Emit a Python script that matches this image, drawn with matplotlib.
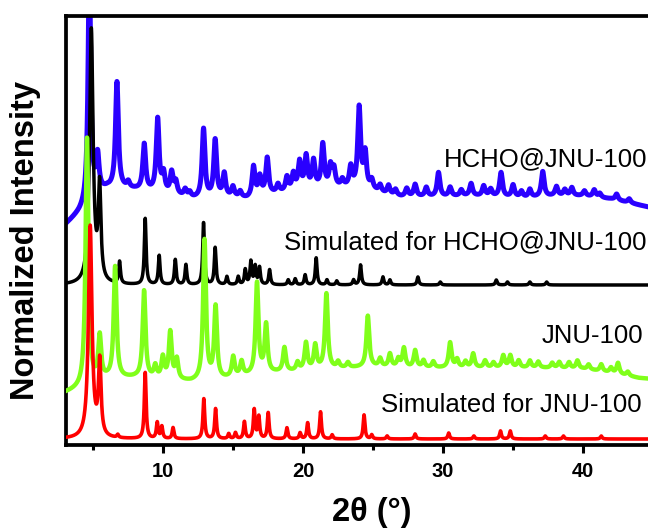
import numpy as np
import matplotlib
matplotlib.use("Agg")
import matplotlib.pyplot as plt
from matplotlib.ticker import MultipleLocator

plt.rcParams['font.family'] = ['Liberation Sans', 'DejaVu Sans']

# peak tables (2theta in degrees, height above background)
red_pos = [4.78, 5.46, 6.75, 8.71, 9.57, 9.9, 10.7, 12.9, 13.74, 14.68, 15.16, 15.8, 16.5, 16.83,
           17.5, 18.84, 19.78, 20.32, 21.24, 22.07, 24.35, 24.9, 26.0, 28.0, 30.4, 32.2, 34.1,
           34.8, 37.3, 38.6, 41.3]
red_hgt = [212, 74, 3, 66, 16, 12, 11, 40, 30, 5, 6, 17, 29, 22,
           26, 11, 6, 16, 27, 4, 24, 4, 3, 5, 6, 3, 8,
           8, 3, 3, 3]
red_bg_x = [3, 45]
red_bg_y = [6, 6]

green_pos = [4.55, 5.46, 6.56, 8.63, 9.43, 9.97, 10.5, 10.97, 12.95, 13.74, 15.0, 15.6, 16.7,
             17.35, 18.66, 19.6, 20.2, 20.86, 21.66, 22.5, 23.2, 24.62, 25.5, 26.2, 26.8, 27.2,
             28.0, 28.6, 29.3, 30.5, 31.0, 31.6, 32.15, 33.0, 33.6, 34.3, 34.8, 35.4, 36.2,
             36.8, 37.8, 38.3, 39.0, 39.6, 40.4, 41.3, 42.0, 42.5, 43.2]
green_hgt = [247, 43, 111, 87, 12, 21, 47, 20, 140, 72, 20, 14, 91,
             48, 24, 8, 27, 24, 75, 6, 5, 51, 8, 13, 8, 19,
             17, 7, 6, 25, 8, 6, 14, 7, 5, 12, 12, 7, 7,
             6, 5, 6, 6, 8, 5, 7, 5, 11, 4]
green_bg_x = [3, 4, 5, 6, 8, 10, 12, 14, 16, 18, 20, 22, 25, 28, 31, 34, 37, 40, 42, 44, 45]
green_bg_y = [52, 56, 62, 66, 67, 65, 63, 65, 69, 72, 74, 76, 78, 77, 77, 77, 77, 76, 72, 67, 66]

black_pos = [4.86, 5.45, 6.88, 8.71, 9.71, 10.86, 11.62, 12.88, 13.71, 14.55, 15.36, 15.86, 16.26,
             16.57, 16.88, 17.6, 18.93, 19.43, 20.14, 20.93, 21.7, 22.4, 23.6, 24.1, 25.7, 26.2,
             28.2, 29.8, 33.8, 34.6, 36.2, 37.4]
black_hgt = [254, 93, 22, 66, 29, 25, 20, 62, 37, 8, 8, 15, 23,
             18, 17, 15, 5, 6, 10, 27, 5, 4, 5, 20, 8, 5,
             8, 3, 5, 3, 3, 3]
black_bg_x = [3, 45]
black_bg_y = [160, 160]

blue_pos = [4.72, 5.31, 6.69, 7.5, 8.64, 9.6, 10.02, 10.6, 10.9, 11.57, 11.9, 12.88, 13.71,
            14.36, 14.98, 15.5, 16.45, 16.9, 17.43, 18.2, 18.84, 19.3, 19.74, 20.21, 20.74,
            21.4, 21.95, 22.2, 22.8, 23.4, 24.0, 24.43, 24.9, 25.5, 26.1, 26.6, 27.4, 28.0,
            28.8, 29.67, 30.5, 31.3, 32.0, 32.9, 33.4, 34.14, 35.0, 35.6, 36.2, 37.12, 38.1,
            38.7, 39.2, 40.1, 40.8, 41.2, 42.4, 43.3]
blue_hgt = [232, 35, 106, 6, 46, 73, 18, 21, 12, 7, 5, 69, 57,
            23, 10, 6, 30, 18, 36, 8, 14, 16, 27, 32, 27,
            43, 20, 17, 7, 20, 80, 35, 9, 7, 9, 6, 8, 12,
            9, 24, 9, 6, 12, 10, 7, 24, 12, 6, 8, 25, 9,
            6, 8, 5, 7, 4, 6, 4]
blue_bg_x = [3, 3.5, 4, 4.4, 5, 6, 7, 8, 9, 10, 11, 12, 13, 14, 15, 16, 17, 18, 19, 20, 21,
             22, 23, 24, 25, 26, 27, 28, 30, 32, 34, 36, 38, 40, 42, 44, 45]
blue_bg_y = [220, 226, 232, 238, 250, 256, 256, 255, 253, 251, 249, 246, 246, 247, 247, 246,
             249, 251, 253, 255, 256, 257, 257, 256, 254, 250, 248, 248, 248, 249, 248, 247,
             249, 249, 246, 240, 237]

labels = ["HCHO@JNU-100", "Simulated for HCHO@JNU-100", "JNU-100", "Simulated for JNU-100"]


def pattern(x, bg_x, bg_y, pos, hgt, gam, main_gam):
    y = np.interp(x, bg_x, bg_y)
    for i, (p, h) in enumerate(zip(pos, hgt)):
        g = main_gam[i] if i < len(main_gam) else gam
        y = y + h * g**2 / ((x - p)**2 + g**2)
    return y


x = np.linspace(3, 45, 6001)
y_red = pattern(x, red_bg_x, red_bg_y, red_pos, red_hgt, 0.075, [0.15, 0.11])
y_green = pattern(x, green_bg_x, green_bg_y, green_pos, green_hgt, 0.12, [0.12])
y_black = pattern(x, black_bg_x, black_bg_y, black_pos, black_hgt, 0.075, [0.15, 0.11])
y_blue = pattern(x, blue_bg_x, blue_bg_y, blue_pos, blue_hgt, 0.12, [0.11])

fig = plt.figure(figsize=(6.48, 5.32), dpi=100)
ax = fig.add_axes([66 / 648, 87 / 532, 587 / 648, 429 / 532])

ax.plot(x, y_blue, color='#2a00ff', lw=3.6, zorder=1)
ax.plot(x, y_black, color='black', lw=2.5, zorder=2)
ax.plot(x, y_green, color='#80ff1a', lw=3.2, zorder=3)
ax.plot(x, y_red, color='#ff0000', lw=2.6, zorder=4)

ax.set_xlim(3.05, 45)
ax.set_ylim(0, 429)

ax.text(44.57, 279, labels[0], ha='right', va='baseline', fontsize=18.5)
ax.text(44.57, 196, labels[1], ha='right', va='baseline', fontsize=18.5)
ax.text(44.29, 102, labels[2], ha='right', va='baseline', fontsize=18.5)
ax.text(44.2, 33, labels[3], ha='right', va='baseline', fontsize=18.5)

for s in ax.spines.values():
    s.set_linewidth(2.7)
ax.spines['right'].set_visible(False)

ax.xaxis.set_major_locator(MultipleLocator(10))
ax.xaxis.set_minor_locator(MultipleLocator(5))
ax.tick_params(axis='x', which='major', direction='out', length=6, width=2.2, pad=6,
               labelsize=14.5)
ax.tick_params(axis='x', which='minor', direction='out', length=3.5, width=2.2)
for t in ax.get_xticklabels():
    t.set_fontweight('bold')
ax.set_yticks([])

fig.text(26 / 648, 1 - 241 / 532, "Normalized Intensity", rotation=90, ha='center',
         va='center', fontsize=23.5, fontweight='bold')
fig.text(372 / 648, 1 - 513 / 532, "2θ (°)", ha='center', va='center', fontsize=23.5,
         fontweight='bold')

fig.savefig("out.png", dpi=100)
